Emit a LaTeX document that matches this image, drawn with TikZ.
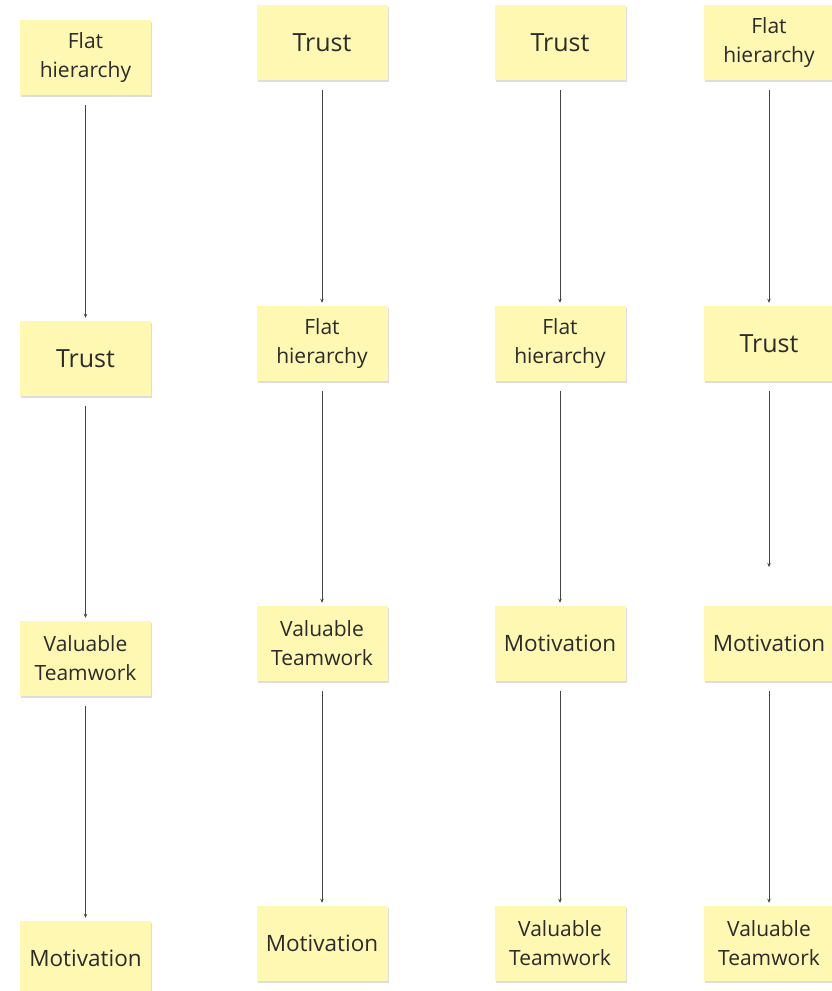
\documentclass[tikz,border=0pt]{standalone}
\usepackage{fontspec}
\setmainfont{Open Sans}
\usetikzlibrary{arrows.meta,shadows}
\definecolor{sticky}{HTML}{FFF8B2}
\definecolor{ink}{HTML}{2B2B2B}
\definecolor{linkgray}{HTML}{444444}
\begin{document}
\begin{tikzpicture}[x=1pt,y=-1pt,
  note/.style={rectangle, fill=sticky, minimum width=131pt, minimum height=75pt,
    inner sep=0pt, align=center, text=ink,
    font=\fontsize{21}{29}\selectfont,
    drop shadow={shadow xshift=1pt, shadow yshift=-2pt, opacity=0.22, fill=black!60}},
  big/.style={font=\fontsize{25}{30}\selectfont},
  mid/.style={font=\fontsize{22.5}{30}\selectfont},
  link/.style={draw=linkgray, line width=0.8pt, -{Stealth[length=4pt,width=3.5pt]},
    shorten <=10pt, shorten >=3pt}]
\useasboundingbox (0,0) rectangle (832,991);

% column 1
\node[note] (a1) at (85.5,57.5) {Flat\\hierarchy};
\node[note, big] (a2) at (85.5,358.5) {Trust};
\node[note] (a3) at (85.5,658.5) {Valuable\\Teamwork};
\node[note, mid] (a4) at (85.5,958.5) {Motivation};
\draw[link] (a1) -- (a2);
\draw[link] (a2) -- (a3);
\draw[link] (a3) -- (a4);

% column 2
\node[note, big] (b1) at (322,42.5) {Trust};
\node[note] (b2) at (322,343.5) {Flat\\hierarchy};
\node[note] (b3) at (322,643.5) {Valuable\\Teamwork};
\node[note, mid] (b4) at (322,943.5) {Motivation};
\draw[link] (b1) -- (b2);
\draw[link] (b2) -- (b3);
\draw[link] (b3) -- (b4);

% column 3
\node[note, big] (c1) at (560,42.5) {Trust};
\node[note] (c2) at (560,343.5) {Flat\\hierarchy};
\node[note, mid] (c3) at (560,643.5) {Motivation};
\node[note] (c4) at (560,943.5) {Valuable\\Teamwork};
\draw[link] (c1) -- (c2);
\draw[link] (c2) -- (c3);
\draw[link] (c3) -- (c4);

% column 4
\node[note] (d1) at (769,42.5) {Flat\\hierarchy};
\node[note, big] (d2) at (769,343.5) {Trust};
\node[note, mid] (d3) at (769,643.5) {Motivation};
\node[note] (d4) at (769,943.5) {Valuable\\Teamwork};
\coordinate (dend) at (769,567);
\draw[link] (d1) -- (d2);
\draw[link, shorten >=0pt] (d2) -- (dend);
\draw[link] (d3) -- (d4);
\end{tikzpicture}
\end{document}
